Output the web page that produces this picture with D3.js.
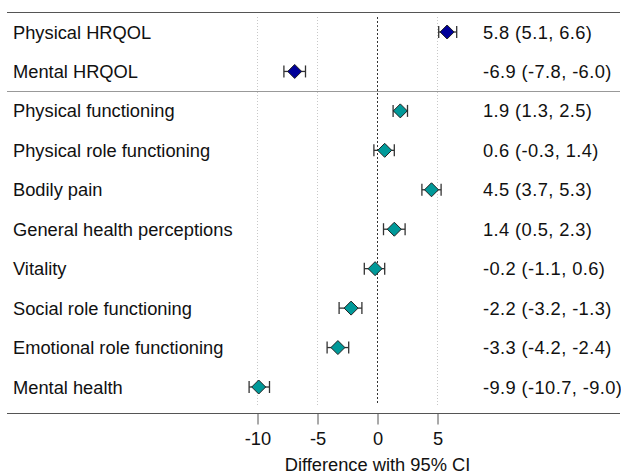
<!DOCTYPE html>
<html><head><meta charset="utf-8">
<script src="https://cdn.jsdelivr.net/npm/d3@7"></script>
<style>body{margin:0;background:#fff}svg{display:block;font-family:Arial,"Liberation Sans",sans-serif}</style>
</head><body>
<script>
const categories = ["Physical HRQOL","Mental HRQOL","Physical functioning","Physical role functioning","Bodily pain","General health perceptions","Vitality","Social role functioning","Emotional role functioning","Mental health"];
const estimates = [5.8,-6.9,1.9,0.6,4.5,1.4,-0.2,-2.2,-3.3,-9.9];
const lower = [5.1,-7.8,1.3,-0.3,3.7,0.5,-1.1,-3.2,-4.2,-10.7];
const upper = [6.6,-6.0,2.5,1.4,5.3,2.3,0.6,-1.3,-2.4,-9.0];
const groups = ["summary","summary","scale","scale","scale","scale","scale","scale","scale","scale"];
const ciLabels = ["5.8 (5.1, 6.6)","-6.9 (-7.8, -6.0)","1.9 (1.3, 2.5)","0.6 (-0.3, 1.4)","4.5 (3.7, 5.3)","1.4 (0.5, 2.3)","-0.2 (-1.1, 0.6)","-2.2 (-3.2, -1.3)","-3.3 (-4.2, -2.4)","-9.9 (-10.7, -9.0)"];
const tickValues = [-10,-5,0,5];
const gridValues = [-10,-5,5];
const xTitle = "Difference with 95% CI";

const W=621,H=475;
const svg=d3.select("body").append("svg").attr("width",W).attr("height",H);
const x=d3.scaleLinear().domain([-10,5]).range([257.5,437.5]);
const y=d3.scalePoint().domain(categories).range([32,387]);
const color=d3.scaleOrdinal().domain(["summary","scale"]).range(["#000099","#009999"]);
const FS=18.3;

svg.append("g").selectAll("line").data(gridValues).join("line")
  .attr("x1",d=>x(d)).attr("x2",d=>x(d)).attr("y1",17).attr("y2",405)
  .attr("stroke","#c8c8c8").attr("stroke-width",1).attr("stroke-dasharray","1,2");
svg.append("line").attr("x1",x(0)).attr("x2",x(0)).attr("y1",17).attr("y2",405)
  .attr("stroke","#333").attr("stroke-width",1).attr("stroke-dasharray","2,2");

svg.append("line").attr("x1",7).attr("x2",620).attr("y1",12.5).attr("y2",12.5).attr("stroke","#555").attr("stroke-width",1.2);
svg.append("line").attr("x1",7).attr("x2",620).attr("y1",91.5).attr("y2",91.5).attr("stroke","#999").attr("stroke-width",1);

const axis=svg.append("g").attr("transform","translate(0,413.5)")
  .call(d3.axisBottom(x).tickValues(tickValues).tickSize(11).tickPadding(8).tickFormat(d=>String(d)));
axis.select(".domain").remove();
axis.selectAll(".tick line").attr("stroke","#555");
axis.selectAll(".tick text").attr("font-size",FS).attr("fill","#111").attr("font-family","Arial,'Liberation Sans',sans-serif");
svg.append("line").attr("x1",7).attr("x2",620).attr("y1",413.5).attr("y2",413.5).attr("stroke","#555").attr("stroke-width",1.2);
svg.append("text").attr("x",x(0)).attr("y",471).attr("text-anchor","middle").attr("font-size",FS).attr("fill","#111").text(xTitle);

svg.append("g").selectAll("text").data(categories).join("text")
  .attr("x",13).attr("y",d=>y(d)).attr("dy","0.36em").attr("font-size",FS).attr("fill","#111").text(d=>d);
svg.append("g").selectAll("text").data(ciLabels).join("text")
  .attr("x",483).attr("y",(d,i)=>y(categories[i])).attr("dy","0.36em").attr("font-size",FS).attr("letter-spacing",0.4).attr("fill","#111").text(d=>d);

const eb=svg.append("g").attr("stroke","#333").attr("stroke-width",1.3);
categories.forEach((c,i)=>{
  const yy=y(c);
  eb.append("line").attr("x1",x(lower[i])).attr("x2",x(upper[i])).attr("y1",yy).attr("y2",yy);
  eb.append("line").attr("x1",x(lower[i])).attr("x2",x(lower[i])).attr("y1",yy-6).attr("y2",yy+6);
  eb.append("line").attr("x1",x(upper[i])).attr("x2",x(upper[i])).attr("y1",yy-6).attr("y2",yy+6);
});
svg.append("g").selectAll("path").data(categories).join("path")
  .attr("d",(c,i)=>{const cx=x(estimates[i]),cy=y(c),r=7;return `M${cx},${cy-r}L${cx+r},${cy}L${cx},${cy+r}L${cx-r},${cy}Z`;})
  .attr("fill",(c,i)=>color(groups[i])).attr("stroke","#222").attr("stroke-width",1);
</script>
</body></html>
